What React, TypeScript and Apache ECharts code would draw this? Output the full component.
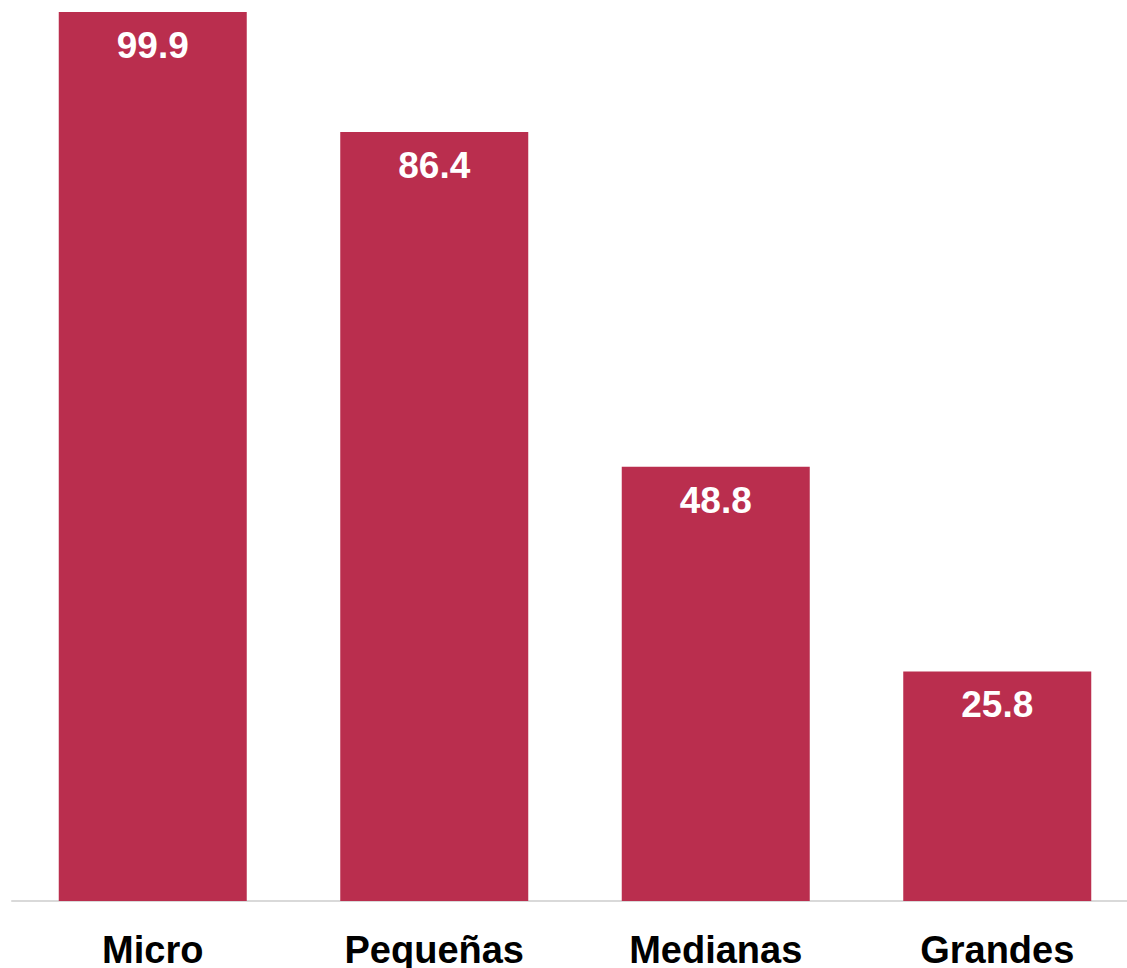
import React, { useEffect, useRef } from "react";
import * as echarts from "echarts";

const categories = ["Micro", "Pequeñas", "Medianas", "Grandes"];
const values = [99.9, 86.4, 48.8, 25.8];

export default function App() {
  const ref = useRef<HTMLDivElement>(null);
  useEffect(() => {
    if (!ref.current) return;
    const chart = echarts.init(ref.current, undefined, { renderer: "svg" });
    chart.setOption({
      animation: false,
      backgroundColor: "#ffffff",
      grid: {
        left: 12,
        right: -11,
        top: 11,
        bottom: 67,
        containLabel: false,
        outerBoundsMode: "none",
      },
      xAxis: {
        type: "category",
        data: categories,
        axisLine: { lineStyle: { color: "#d9d9d9", width: 2 } },
        axisTick: { show: false },
        axisLabel: {
          color: "#000000",
          fontFamily: "Liberation Sans",
          fontWeight: "bold",
          fontSize: 38,
          margin: 30,
        },
      },
      yAxis: {
        type: "value",
        min: 0,
        max: 100,
        show: false,
        splitLine: { show: false },
      },
      series: [
        {
          type: "bar",
          data: values,
          barWidth: 188,
          itemStyle: { color: "#BA2E4E" },
          label: {
            show: true,
            position: "insideTop",
            distance: 15,
            color: "#ffffff",
            fontFamily: "Liberation Sans",
            fontWeight: "bold",
            fontSize: 37,
            formatter: (p: any) => p.value.toFixed(1),
          },
        },
      ],
    });
    return () => chart.dispose();
  }, []);
  return (
    <div
      ref={ref}
      style={{ position: "fixed", left: 0, top: 0, width: 1127, height: 968 }}
    />
  );
}
